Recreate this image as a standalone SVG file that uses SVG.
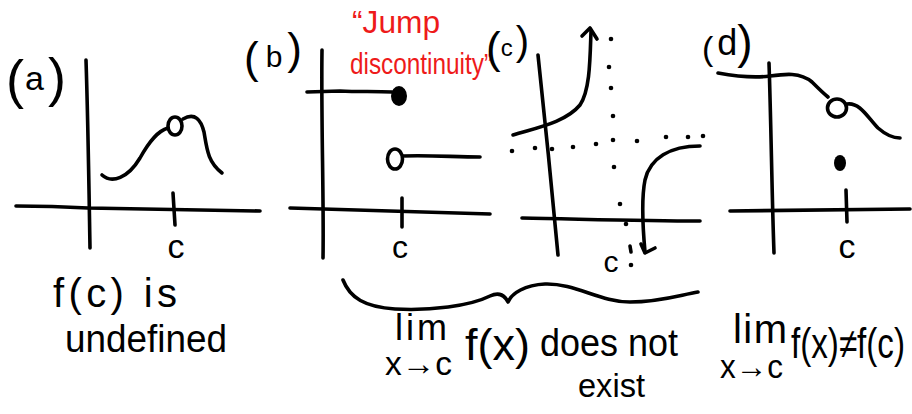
<svg xmlns="http://www.w3.org/2000/svg" width="912" height="414" viewBox="0 0 912 414">
<style>
.ln{fill:none;stroke:#000;stroke-width:3.6;stroke-linecap:round;stroke-linejoin:round}
.dot{fill:#000}
.t{font-family:"Liberation Sans",Arial,sans-serif;fill:#000}
.r{font-family:"Liberation Sans",Arial,sans-serif;fill:#ee1a1a}
</style>
<rect width="912" height="414" fill="#fff"/>

<g id="panel-a">
<text class="t" x="6" y="98" font-size="54">(<tspan font-size="34" dy="-8" dx="1">a</tspan><tspan font-size="54" dy="6" dx="4">)</tspan></text>
<path class="ln" d="M86,60 C88,120 89,190 90,248"/>
<path class="ln" d="M16,206 C50,206 70,207 88,208 L260,211"/>
<path class="ln" d="M173,193 L175,225"/>
<text class="t" x="176" y="258" font-size="34" text-anchor="middle">c</text>
<path class="ln" d="M102,175 C112,184 128,178 140,158 C150,140 158,131 168,128"/>
<ellipse class="ln" cx="175" cy="126" rx="7" ry="9"/>
<path class="ln" d="M183,119 C195,112 201,120 204,132 C207,150 208,162 222,173"/>
<text class="t" x="53" y="307" font-size="40" textLength="124" lengthAdjust="spacing">f(c) is</text>
<text class="t" x="65" y="352" font-size="38" textLength="162" lengthAdjust="spacingAndGlyphs">undefined</text>
</g>

<g id="panel-b">
<text class="t" x="244" y="73" font-size="44">(<tspan font-size="30" dy="-6" dx="7">b</tspan><tspan font-size="44" dy="-3" dx="5">)</tspan></text>
<path class="ln" d="M322,50 C321,120 324,200 323,258"/>
<path class="ln" d="M290,208 L490,214"/>
<path class="ln" d="M402,198 L402,227"/>
<text class="t" x="400" y="258" font-size="32" text-anchor="middle">c</text>
<path class="ln" d="M307,92 L340,91 C360,92 375,91 392,92"/>
<ellipse cx="399" cy="96" rx="8" ry="10" fill="#000"/>
<ellipse class="ln" cx="395" cy="159" rx="7.5" ry="10"/>
<path class="ln" d="M403,156 C430,155 455,157 480,157"/>
<text class="r" x="352" y="33" font-size="32" textLength="88" lengthAdjust="spacingAndGlyphs">“Jump</text>
<text class="r" x="350" y="74" font-size="30" textLength="142" lengthAdjust="spacingAndGlyphs">discontinuity”</text>
</g>

<g id="panel-c">
<text class="t" x="486" y="63" font-size="44">(<tspan font-size="24" dy="-7" dx="0">c</tspan><tspan font-size="40" dy="-1" dx="3">)</tspan></text>
<path class="ln" d="M538,55 C545,120 552,190 558,255"/>
<path class="ln" d="M522,218 C580,219 640,221 700,221"/>
<path class="ln" d="M513,135 C535,128 565,123 580,105 C590,90 590,60 591,31"/>
<path class="ln" d="M582,36 L590,28 L597,39"/>
<path class="ln" d="M700,146 C670,146 650,158 645,180 C641,200 643,230 645,252"/>
<path class="ln" d="M641,244 L645,253 L655,248"/>
<g id="asymptotes">
<circle class="dot" cx="611" cy="39" r="2.3"/>
<circle class="dot" cx="609" cy="67" r="2.3"/>
<circle class="dot" cx="611" cy="88" r="2.3"/>
<circle class="dot" cx="613" cy="116" r="2.3"/>
<circle class="dot" cx="613" cy="140" r="2.3"/>
<circle class="dot" cx="614" cy="167" r="2.3"/>
<circle class="dot" cx="620" cy="204" r="2.3"/>
<circle class="dot" cx="626" cy="224" r="2.3"/>
<path class="ln" d="M630,246 L631,252"/>
<circle class="dot" cx="631" cy="265" r="2.3"/>
<circle class="dot" cx="512" cy="151" r="2.3"/>
<circle class="dot" cx="535" cy="148" r="2.3"/>
<circle class="dot" cx="552" cy="149" r="2.3"/>
<circle class="dot" cx="573" cy="147" r="2.3"/>
<circle class="dot" cx="596" cy="144" r="2.3"/>
<circle class="dot" cx="637" cy="141" r="2.3"/>
<circle class="dot" cx="666" cy="137" r="2.3"/>
<circle class="dot" cx="688" cy="137" r="2.3"/>
<circle class="dot" cx="703" cy="136" r="2.3"/>
</g>
<text class="t" x="611" y="272" font-size="30" text-anchor="middle">c</text>
</g>

<g id="panel-d">
<text class="t" x="702" y="60" font-size="34">(<tspan font-size="36" dy="-5" dx="4">d</tspan><tspan font-size="46" dy="3" dx="0">)</tspan></text>
<path class="ln" d="M769,63 C771,120 772,200 774,253"/>
<path class="ln" d="M730,211 L910,209"/>
<path class="ln" d="M846,190 L847,222"/>
<text class="t" x="847" y="258" font-size="34" text-anchor="middle">c</text>
<path class="ln" d="M718,73 C740,77 755,78 770,76 C785,74 800,72 812,82 C818,88 823,93 828,97"/>
<ellipse class="ln" cx="837" cy="108" rx="9.5" ry="9"/>
<path class="ln" d="M847,104 C860,102 868,118 878,128 C886,135 892,138 900,138"/>
<ellipse cx="840" cy="163" rx="6" ry="8" fill="#000"/>
<text class="t" x="733" y="343" font-size="40" textLength="54" lengthAdjust="spacing">lim</text>
<text class="t" x="720" y="378" font-size="34" textLength="63" lengthAdjust="spacingAndGlyphs">x→c</text>
<text class="t" x="791" y="358" font-size="42" textLength="114" lengthAdjust="spacingAndGlyphs">f(x)≠f(c)</text>
</g>

<g id="brace-bc">
<path class="ln" d="M343,280 C350,298 365,307 395,309 C430,311 470,306 490,296 C500,291 505,296 508,302 C512,293 525,285 545,284 C575,283 600,302 630,302 C660,302 680,295 698,292"/>
<text class="t" x="395" y="340" font-size="36" textLength="52" lengthAdjust="spacing">lim</text>
<text class="t" x="385" y="375" font-size="34" textLength="67" lengthAdjust="spacingAndGlyphs">x→c</text>
<text class="t" x="465" y="360" font-size="45" textLength="65" lengthAdjust="spacingAndGlyphs">f(x)</text>
<text class="t" x="540" y="356" font-size="38" textLength="138" lengthAdjust="spacingAndGlyphs">does not</text>
<text class="t" x="578" y="397" font-size="34" textLength="67" lengthAdjust="spacingAndGlyphs">exist</text>
</g>
</svg>
